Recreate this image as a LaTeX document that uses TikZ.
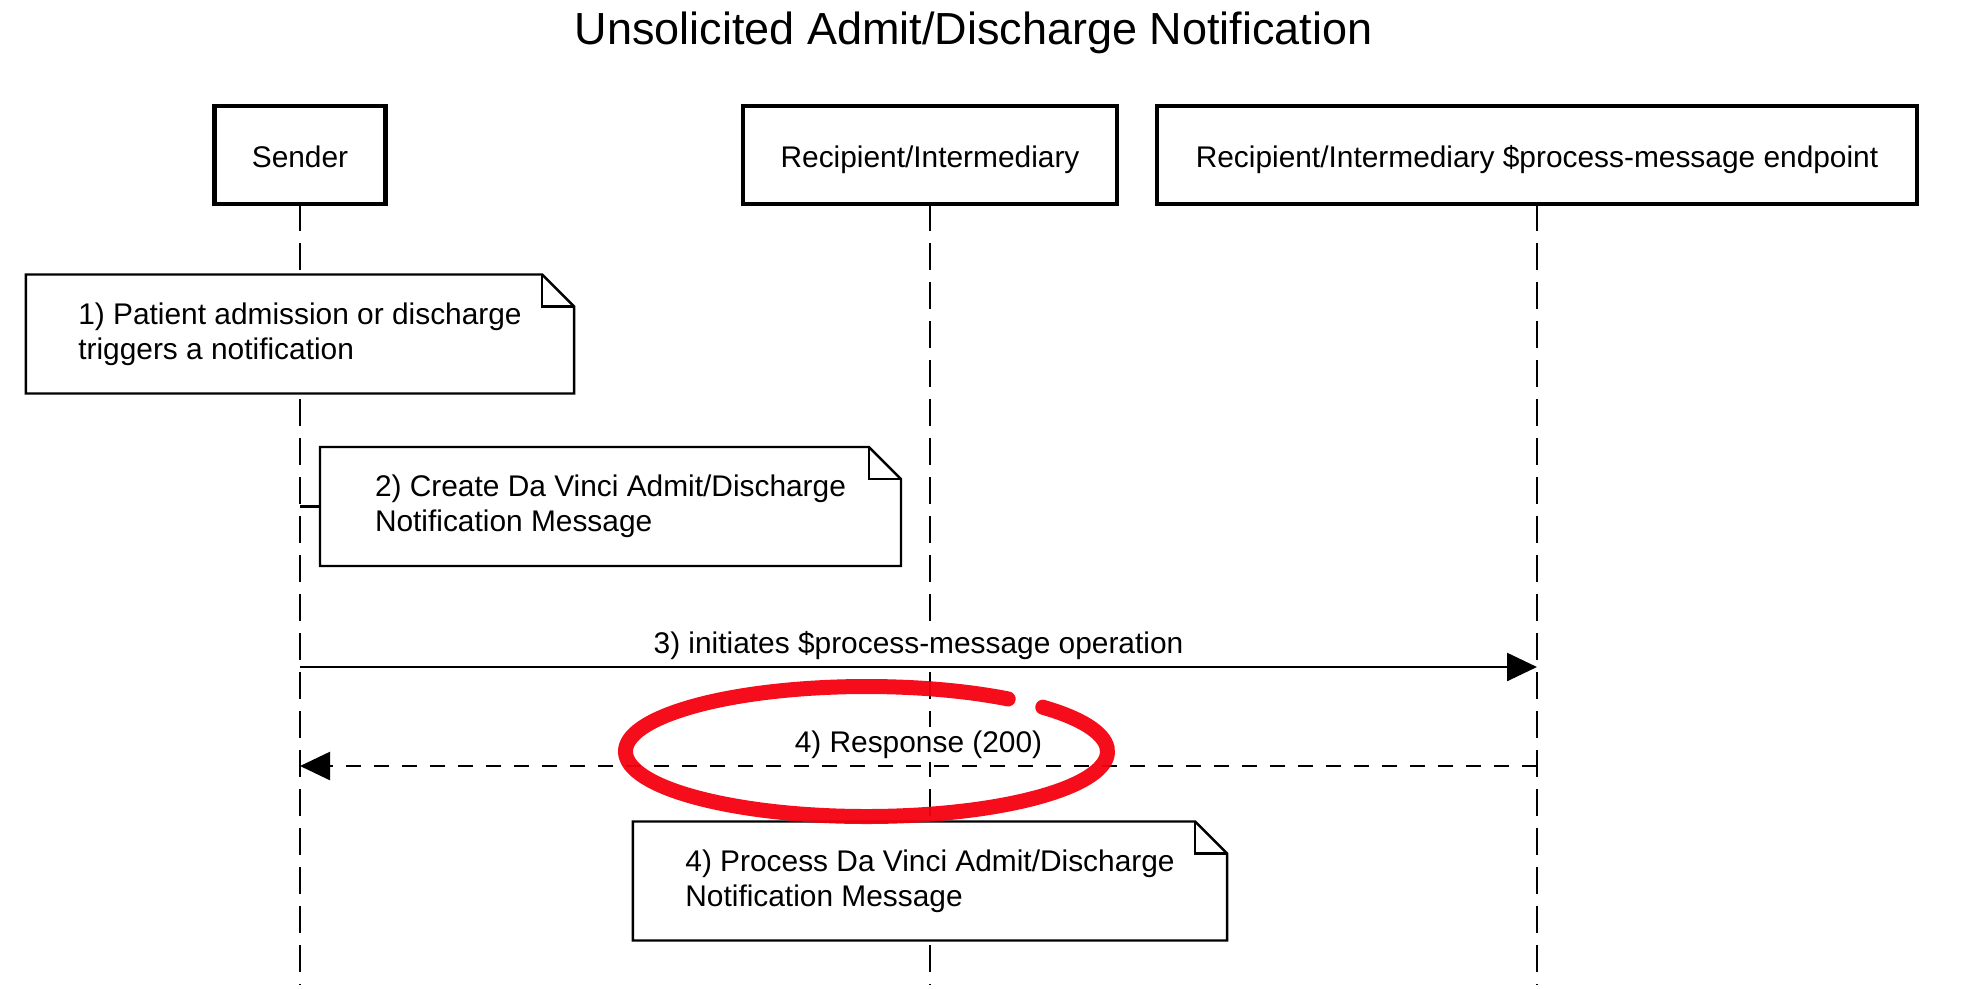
\documentclass[tikz,border=0pt]{standalone}
\usepackage{fontspec}
\setmainfont{Liberation Sans}
\usetikzlibrary{arrows.meta,calc}
\definecolor{marker}{RGB}{245,0,15}

% outline of a note with a folded corner
\newcommand{\dogear}[1]{%
  \draw[notebox] (#1.south west) -- (#1.north west) -- ([xshift=-0.64cm]#1.north east)
    -- ([yshift=-0.64cm]#1.north east) -- (#1.south east) -- cycle;
  \draw[notebox] ([xshift=-0.64cm]#1.north east) -- ([xshift=-0.64cm,yshift=-0.64cm]#1.north east)
    -- ([yshift=-0.64cm]#1.north east);}

\begin{document}
\begin{tikzpicture}[>={Triangle[length=0.6cm,width=0.56cm]},font=\fontsize{17}{20}\selectfont,
  actor/.style={draw,line width=2.6pt,minimum height=1.96cm,outer sep=0pt,text height=0.56cm,text depth=0.06cm},
  note/.style={fill=white,align=left,inner xsep=1.05cm,minimum height=2.38cm,outer sep=0pt},
  notebox/.style={line width=1.4pt},
  lifeline/.style={line width=1.4pt,dash pattern=on 0.54cm off 0.24cm},
  msg/.style={->,line width=1.4pt},
  reply/.style={->,line width=1.4pt,dash pattern=on 0.30cm off 0.26cm},
  msglabel/.style={fill=white,inner sep=2pt,anchor=base,yshift=0.27cm},
  redmark/.style={line width=0.3cm,draw=marker,line cap=round,opacity=0.95}]
\useasboundingbox (0,0) rectangle (39.46,-19.76);
\node[font=\fontsize{25.6}{30}\selectfont,anchor=base] (title) at (19.47,-0.88) {Unsolicited Admit/Discharge Notification};
\node[actor,minimum width=3.42cm] (sender) at (6.00,-3.10) {Sender};
\node[actor,minimum width=7.48cm] (recip) at (18.60,-3.10) {Recipient/Intermediary};
\node[actor,minimum width=15.20cm] (endpoint) at (30.74,-3.10) {Recipient/Intermediary \$process-message endpoint};
\coordinate (bottom) at (0,-19.70);
\coordinate (m3) at (0,-13.34);
\coordinate (m4) at (0,-15.32);
% lifelines
\draw[lifeline] (sender.south) -- (sender.south |- bottom);
\draw[lifeline] (recip.south) -- (recip.south |- bottom);
\draw[lifeline] (endpoint.south) -- (endpoint.south |- bottom);
% notes
\node[note] (note1) at (6.00,-6.68) {1) Patient admission or discharge\\triggers a notification};
\dogear{note1}
\node[note,anchor=west,inner xsep=1.1cm] (note2) at (6.40,-10.13) {2) Create Da Vinci Admit/Discharge\\Notification Message};
\dogear{note2}
\draw[notebox] (note2.west) -- (note2.west -| sender);
\node[note] (note3) at (18.60,-17.62) {4) Process Da Vinci Admit/Discharge\\Notification Message};
\dogear{note3}
% messages
\draw[msg] (sender |- m3) -- node[msglabel] (l3) {3) initiates \$process-message operation} (endpoint |- m3);
\draw[reply] (endpoint |- m4) -- node[msglabel] (l4) {4) Response (200)} (sender |- m4);
% red marker round the response
\draw[redmark] ([shift={(54:4.82cm and 1.30cm)}]17.33,-15.03) arc[start angle=54,end angle=403,x radius=4.82,y radius=1.30];
\end{tikzpicture}
\end{document}
